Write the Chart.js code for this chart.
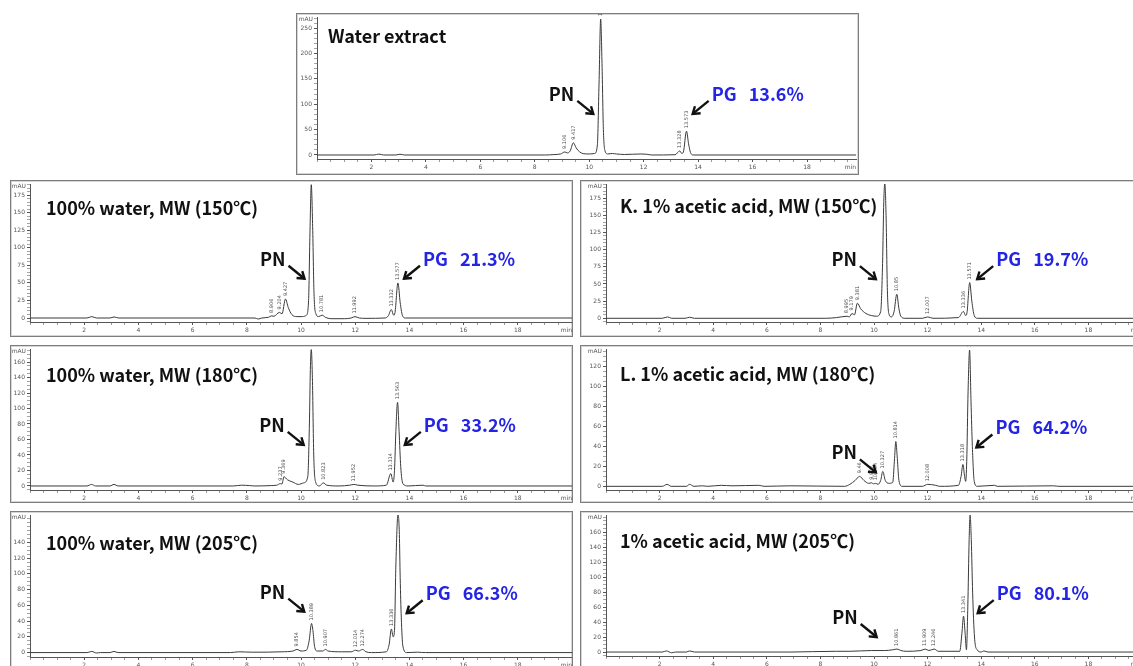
<!DOCTYPE html>
<html>
<head>
<meta charset="utf-8">
<title>HPLC chromatograms – PN / PG</title>
<script src="https://cdn.jsdelivr.net/npm/chart.js@4.4.1/dist/chart.umd.min.js"></script>
<style>
  html, body { margin: 0; padding: 0; background: #fff; }
  body { width: 1133px; height: 666px; overflow: hidden; position: relative; }
  .panel { position: absolute; box-sizing: border-box; border: 1px solid #7d7d7d; background: #fff;
           box-shadow: inset 0 0 0 1px #d6d6d6; overflow: hidden; }
  .panel canvas { position: absolute; left: 0; top: 0; }
</style>
</head>
<body>
<script>
// ---- retention-time axis (min) ----
const timeTicks = [2, 4, 6, 8, 10, 12, 14, 16, 18];
const timeEnds = [19.8, 20, 20, 20, 20, 20, 20];

// ---- panel titles and PG share ----
const titles = [
  'Water extract',
  '100% water, MW (150\u2103)',
  'K. 1% acetic acid, MW (150\u2103)',
  '100% water, MW (180\u2103)',
  'L. 1% acetic acid, MW (180\u2103)',
  '100% water, MW (205\u2103)',
  '1% acetic acid, MW (205\u2103)'
];
const pgShares = ['13.6%', '21.3%', '19.7%', '33.2%', '64.2%', '66.3%', '80.1%'];

// arrow tips [min, mAU] pointing at the PN and PG peaks
const pnTips = [[10.15, 81], [10.13, 56], [10.07, 57], [10.1, 53], [10.07, 14], [10.12, 52], [10.1, 20]];
const pgTips = [[13.8, 81], [13.8, 56], [13.85, 57], [13.83, 53], [13.82, 39], [13.9, 50], [13.87, 52]];

// ---- absorbance axis (mAU): labelled ticks, minor step, visible range ----
const yLabels = [
  [0, 50, 100, 150, 200, 250],
  [0, 25, 50, 75, 100, 125, 150, 175],
  [0, 25, 50, 75, 100, 125, 150, 175],
  [0, 20, 40, 60, 80, 100, 120, 140, 160],
  [0, 20, 40, 60, 80, 100, 120],
  [0, 20, 40, 60, 80, 100, 120, 140],
  [0, 20, 40, 60, 80, 100, 120, 140, 160]
];
const yMinorStep = [10, 5, 5, 5, 5, 5, 5];
const yRanges = [[-7.9, 272], [-5.7, 191], [-5.4, 195.5], [-5.2, 176.8], [-3.7, 138], [-5.6, 174.8], [-5.3, 183]];

// ---- chromatogram traces [time (min), absorbance (mAU)] ----
const traceWaterExtract = [
  [0, 0], [2.1, 0], [2.27, 1.8], [2.45, 0], [2.9, 0], [3.05, 1.5], [3.22, 0], [8.4, 0], [8.7, 0.8],
  [8.95, 2], [9.106, 6], [9.2, 4], [9.3, 8], [9.417, 24], [9.52, 14], [9.65, 6], [9.8, 2.5], [10.0, 2],
  [10.2, 3], [10.3, 20], [10.36, 140], [10.421, 268], [10.47, 180], [10.52, 50], [10.58, 8], [10.68, 2],
  [10.85, 3], [11.0, 2], [11.3, 1], [11.9, 2], [12.1, 1.5], [12.3, 0], [13.15, 0.5], [13.328, 8],
  [13.4, 3], [13.46, 6], [13.573, 47], [13.65, 22], [13.72, 5], [13.82, 0], [19.8, 0]
];
const traceWater150 = [
  [0, 0], [2.1, 0], [2.28, 2], [2.45, 0], [2.95, 0], [3.1, 1.5], [3.28, 0], [8.3, 0], [8.42, -1.5],
  [8.55, 0], [8.8, 1], [8.906, 3], [9.0, 2.5], [9.204, 8], [9.3, 6], [9.427, 27], [9.53, 15], [9.66, 5],
  [9.85, 2], [10.05, 2], [10.2, 4], [10.28, 25], [10.33, 120], [10.379, 190], [10.43, 130], [10.48, 35],
  [10.55, 6], [10.65, 2], [10.781, 4], [10.9, 1], [11.1, -1], [11.6, -1], [11.85, 0], [11.992, 2],
  [12.15, 0], [12.4, -0.5], [13.1, 0], [13.22, 3], [13.332, 12], [13.42, 4], [13.47, 8], [13.577, 50],
  [13.66, 22], [13.74, 4], [13.85, 0], [20, 0]
];
const traceAcid150 = [
  [0, 0], [2.1, 0], [2.3, 2], [2.45, 0], [2.95, 0], [3.12, 1.5], [3.3, 0], [8.2, 0], [8.6, 1],
  [8.995, 3], [9.08, 2], [9.179, 7], [9.27, 5], [9.381, 22], [9.5, 14], [9.7, 7], [9.9, 4], [10.1, 3],
  [10.25, 10], [10.32, 80], [10.365, 170], [10.405, 196], [10.45, 150], [10.5, 40], [10.56, 6],
  [10.65, 2], [10.75, 10], [10.85, 35], [10.93, 14], [11.0, 3], [11.15, 0], [11.8, 0], [12.007, 2],
  [12.2, 0], [13.15, 1], [13.336, 10], [13.42, 4], [13.47, 8], [13.571, 52], [13.65, 25], [13.74, 4],
  [13.85, 0], [20, 0]
];
const traceWater180 = [
  [0, 0], [2.1, 0], [2.27, 2], [2.42, 0], [2.95, 0], [3.1, 2], [3.25, 0], [7.5, 0], [7.8, 1], [8.1, 0.5],
  [8.3, 0], [8.9, 0.5], [9.1, 1], [9.237, 3], [9.3, 2.5], [9.369, 12], [9.5, 8], [9.7, 5], [9.9, 2],
  [10.1, 4], [10.25, 12], [10.31, 80], [10.345, 150], [10.379, 176], [10.42, 140], [10.47, 40],
  [10.54, 5], [10.68, 0], [10.823, 4], [10.95, 1], [11.4, 0], [11.8, 1], [11.952, 2], [12.1, 1],
  [12.7, 0], [13.15, 1], [13.314, 16], [13.4, 5], [13.45, 20], [13.5, 70], [13.563, 108], [13.62, 70],
  [13.68, 25], [13.76, 3], [13.95, 0], [14.5, 1], [14.6, 0], [20, 0]
];
const traceAcid180 = [
  [0, 0], [2.1, 0], [2.28, 2], [2.43, 0], [3.0, 0], [3.12, 2], [3.28, 0], [3.6, 0.5], [3.8, 0], [4.3, 1],
  [4.7, 0.5], [5.7, 1], [5.9, 0], [6.9, 0.5], [8.9, 0], [9.1, 2], [9.3, 6], [9.46, 10], [9.62, 6],
  [9.8, 3], [9.907, 3.5], [9.98, 2.5], [10.064, 3], [10.15, 2], [10.25, 6], [10.327, 15], [10.42, 6],
  [10.55, 3], [10.7, 4], [10.76, 25], [10.814, 45], [10.87, 28], [10.93, 6], [11.05, 0], [11.8, 0],
  [12.008, 2], [12.3, 1], [12.45, 0], [13.15, 1], [13.25, 10], [13.318, 22], [13.38, 10], [13.42, 5],
  [13.46, 25], [13.51, 95], [13.567, 137], [13.62, 85], [13.67, 40], [13.74, 5], [13.85, 0],
  [14.5, 1], [14.6, 0], [16.7, 0.5], [16.9, 0], [20, 0]
];
const traceWater205 = [
  [0, 0], [2.1, 0], [2.28, 1.5], [2.45, -0.5], [2.6, 0], [2.95, 0], [3.1, 1.5], [3.25, 0], [7.4, 0],
  [7.7, 1], [8.2, 0.5], [9.3, 1], [9.7, 2], [9.854, 4], [10.0, 2], [10.2, 3], [10.3, 15], [10.389, 37],
  [10.44, 28], [10.5, 8], [10.6, 2], [10.8, 2], [10.907, 4], [11.0, 2], [11.5, 1], [11.85, 1],
  [12.014, 3], [12.12, 2], [12.274, 4], [12.4, 1], [12.6, 0], [13.15, 1], [13.25, 10], [13.336, 30],
  [13.4, 20], [13.45, 28], [13.5, 110], [13.579, 176], [13.63, 150], [13.66, 95], [13.7, 45],
  [13.76, 8], [13.9, 0], [14.3, 0.5], [14.6, 0], [20, 0]
];
const traceAcid205 = [
  [0, 0], [2.1, 0], [2.25, 1.5], [2.45, -1], [2.6, 0], [3.0, 0], [3.12, 1.5], [3.3, 0], [6.9, 0],
  [7.7, 0.5], [8.6, 1], [9.1, 1], [9.9, 2], [10.4, 2], [10.7, 3], [10.861, 4], [11.0, 2], [11.2, 1],
  [11.75, 2], [11.909, 4], [12.05, 2], [12.246, 4], [12.4, 1], [12.8, 1], [13.2, 1], [13.28, 25],
  [13.341, 48], [13.4, 25], [13.45, 3], [13.5, 60], [13.55, 150], [13.585, 183], [13.63, 150],
  [13.68, 80], [13.75, 20], [13.85, 3], [14.0, 0], [14.1, 1.5], [14.25, 0], [20, 0]
];
const traces = [traceWaterExtract, traceWater150, traceAcid150, traceWater180, traceAcid180, traceWater205, traceAcid205];

// ---- integrator retention-time labels printed above peaks ----
const peakLabels = [
  ['9.106', '9.417', '10.421', '13.328', '13.573'],
  ['8.906', '9.204', '9.427', '10.379', '10.781', '11.992', '13.332', '13.577'],
  ['8.995', '9.179', '9.381', '10.405', '10.85', '12.007', '13.336', '13.571'],
  ['9.237', '9.369', '10.379', '10.823', '11.952', '13.314', '13.563'],
  ['9.46', '9.907', '10.064', '10.327', '10.814', '12.008', '13.318', '13.567'],
  ['9.854', '10.389', '10.907', '12.014', '12.274', '13.336', '13.579'],
  ['10.861', '11.909', '12.246', '13.341', '13.585']
];

// ---- page layout of each framed panel ----
// box: [left, top, width, height]; plot offsets are inside the frame
const layout = [
  { box: [296, 13, 563, 162], plotLeft: 20, plotTop: 3, axisY: 145, padRight: 2, title: [31, 22] },
  { box: [10, 180, 563, 157], plotLeft: 19, plotTop: 3, axisY: 141, padRight: 0, title: [35, 27] },
  { box: [580, 180, 565, 157], plotLeft: 25, plotTop: 3, axisY: 141, padRight: 2, title: [39, 25] },
  { box: [10, 345, 563, 158], plotLeft: 19, plotTop: 3, axisY: 144, padRight: 0, title: [35, 29] },
  { box: [580, 345, 565, 158], plotLeft: 25, plotTop: 3, axisY: 144, padRight: 2, title: [39, 28] },
  { box: [10, 511, 563, 170], plotLeft: 19, plotTop: 3, axisY: 145, padRight: 0, title: [35, 31] },
  { box: [580, 511, 565, 170], plotLeft: 25, plotTop: 3, axisY: 144, padRight: 2, title: [39, 29] }
];

const TEXT_FONT = '"Noto Sans CJK KR", "Noto Sans", sans-serif';
const PG_BLUE = '#2424e4';

function drawArrow(ctx, x0, y0, x1, y1) {
  ctx.beginPath();
  ctx.moveTo(x0, y0);
  ctx.lineTo(x1, y1);
  ctx.stroke();
  const ang = Math.atan2(y1 - y0, x1 - x0), len = 8, spread = 0.6;
  ctx.beginPath();
  ctx.moveTo(x1 - len * Math.cos(ang - spread), y1 - len * Math.sin(ang - spread));
  ctx.lineTo(x1, y1);
  ctx.lineTo(x1 - len * Math.cos(ang + spread), y1 - len * Math.sin(ang + spread));
  ctx.stroke();
}

// Draws unit labels, retention-time labels, panel title and PN/PG call-outs
const chromAnno = {
  id: 'chromAnno',
  afterDatasetsDraw(chart, args, o) {
    const { ctx, chartArea: a, scales: { x, y } } = chart;
    const pts = chart.data.datasets[0].data;
    ctx.save();

    ctx.fillStyle = '#555';
    ctx.font = '6px "DejaVu Sans"';
    ctx.textAlign = 'right';
    ctx.textBaseline = 'middle';
    ctx.fillText('mAU', a.left - 4, a.top + 2);
    ctx.textBaseline = 'top';
    ctx.fillText('min', a.right, a.bottom + 5);

    ctx.font = '5px "DejaVu Sans"';
    ctx.fillStyle = '#4a4a4a';
    o.rt.forEach(s => {
      const t = parseFloat(s);
      const p = pts.find(q => q.x === t);
      if (!p) return;
      const px = x.getPixelForValue(t), py = y.getPixelForValue(p.y);
      ctx.save();
      ctx.translate(px, py - 3);
      ctx.rotate(-Math.PI / 2);
      ctx.textAlign = 'left';
      ctx.textBaseline = 'middle';
      ctx.fillText(s, 0, 0);
      ctx.restore();
    });

    ctx.fillStyle = '#111';
    ctx.font = 'bold 18px ' + TEXT_FONT;
    ctx.textAlign = 'left';
    ctx.textBaseline = 'middle';
    ctx.fillText(o.title, o.titlePos[0], o.titlePos[1]);

    ctx.strokeStyle = '#111';
    ctx.lineWidth = 2.4;
    ctx.lineCap = 'butt';
    ctx.lineJoin = 'miter';

    const pnX = x.getPixelForValue(o.pn[0]), pnY = y.getPixelForValue(o.pn[1]);
    drawArrow(ctx, pnX - 16, pnY - 13, pnX, pnY);
    ctx.textAlign = 'right';
    ctx.fillText('PN', pnX - 19, pnY - 20);

    const pgX = x.getPixelForValue(o.pg[0]), pgY = y.getPixelForValue(o.pg[1]);
    drawArrow(ctx, pgX + 16, pgY - 13, pgX, pgY);
    ctx.fillStyle = PG_BLUE;
    ctx.textAlign = 'left';
    ctx.fillText('PG', pgX + 19, pgY - 20);
    ctx.fillText(o.share, pgX + 56, pgY - 20);

    ctx.restore();
  }
};

layout.forEach((L, i) => {
  const [left, top, w, h] = L.box;
  const div = document.createElement('div');
  div.className = 'panel';
  Object.assign(div.style, { left: left + 'px', top: top + 'px', width: w + 'px', height: h + 'px' });
  const cw = w - 2, ch = h - 2;
  const cv = document.createElement('canvas');
  cv.width = cw; cv.height = ch;
  cv.style.width = cw + 'px'; cv.style.height = ch + 'px';
  div.appendChild(cv);
  document.body.appendChild(div);

  const [yMin, yMax] = yRanges[i];
  const labels = yLabels[i];
  const step = yMinorStep[i];
  const tEnd = timeEnds[i];

  new Chart(cv, {
    type: 'line',
    data: {
      datasets: [{
        data: traces[i].map(([t, v]) => ({ x: t, y: v })),
        borderColor: '#3a3a3a',
        borderWidth: 1,
        pointRadius: 0,
        cubicInterpolationMode: 'monotone',
        fill: false
      }]
    },
    options: {
      responsive: false,
      animation: false,
      events: [],
      layout: { padding: { left: 0, top: L.plotTop, right: L.padRight, bottom: 0 } },
      plugins: {
        legend: { display: false },
        tooltip: { enabled: false },
        chromAnno: {
          rt: peakLabels[i], title: titles[i], titlePos: L.title,
          pn: pnTips[i], pg: pgTips[i], share: pgShares[i]
        }
      },
      scales: {
        x: {
          type: 'linear', min: 0, max: tEnd,
          afterBuildTicks: s => {
            const ticks = [];
            for (let k = 0; k * 0.5 < tEnd; k++) ticks.push({ value: k * 0.5 });
            s.ticks = ticks;
          },
          afterFit: s => { s.height = ch - L.axisY; s.paddingLeft = 0; s.paddingRight = 0; },
          ticks: {
            autoSkip: false, maxRotation: 0, minRotation: 0, padding: 2,
            color: '#555', font: { family: 'DejaVu Sans', size: 6 },
            callback: v => timeTicks.includes(v) ? String(v) : ''
          },
          grid: {
            drawOnChartArea: false, drawTicks: true, tickLength: 3,
            tickColor: c => (c.tick && timeTicks.includes(c.tick.value)) ? '#555' : '#9a9a9a'
          },
          border: { display: true, color: '#555', width: 1 }
        },
        y: {
          type: 'linear', min: yMin, max: yMax,
          afterBuildTicks: s => {
            const ticks = [];
            for (let v = Math.ceil(yMin / step) * step; v <= yMax; v += step) ticks.push({ value: v });
            s.ticks = ticks;
          },
          afterFit: s => { s.width = L.plotLeft; s.paddingTop = 0; s.paddingBottom = 0; },
          ticks: {
            autoSkip: false, padding: 2,
            color: '#555', font: { family: 'DejaVu Sans', size: 6 },
            callback: v => labels.includes(v) ? String(v) : ''
          },
          grid: {
            drawOnChartArea: false, drawTicks: true, tickLength: 3,
            tickColor: c => (c.tick && labels.includes(c.tick.value)) ? '#555' : '#a5a5a5'
          },
          border: { display: true, color: '#555', width: 1 }
        }
      }
    },
    plugins: [chromAnno]
  });
});
</script>
</body>
</html>
